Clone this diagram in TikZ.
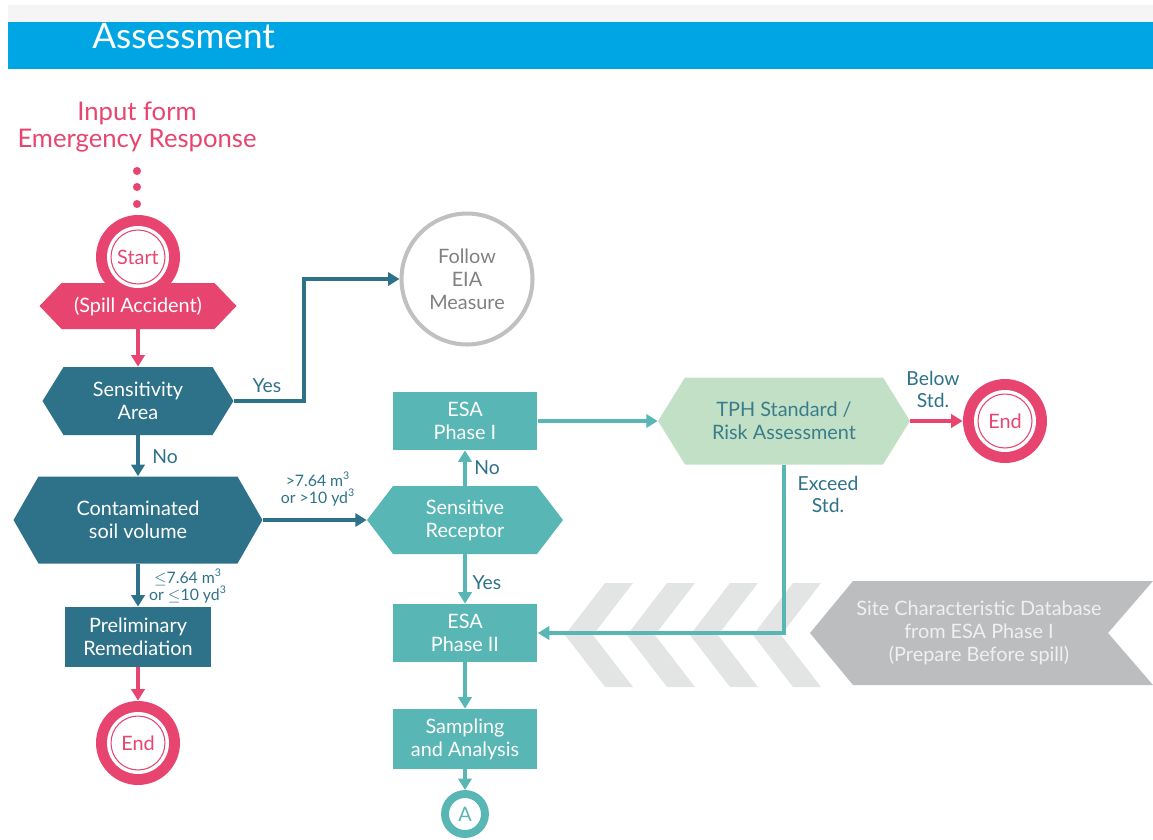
\documentclass[tikz,border=0pt]{standalone}
\usepackage{fontspec}
\setmainfont{Lato}
\definecolor{erpink}{RGB}{231,69,112}
\definecolor{darkteal}{RGB}{46,114,137}
\definecolor{liteteal}{RGB}{88,182,181}
\definecolor{tphgreen}{RGB}{193,224,198}
\definecolor{tphtext}{RGB}{58,125,138}
\definecolor{ringgray}{RGB}{192,192,192}
\definecolor{eiatext}{RGB}{128,128,128}
\definecolor{dbgray}{RGB}{188,189,191}
\definecolor{chevgray}{RGB}{227,228,228}
\definecolor{headblue}{RGB}{0,166,228}
\definecolor{headgray}{RGB}{245,245,245}
\usetikzlibrary{arrows.meta,calc}

\begin{document}
\begin{tikzpicture}[
  x=0.02cm,y=-0.02cm,
  font=\fontsize{11.3}{13}\selectfont,
  hexbox/.style 2 args={inner sep=0pt,align=center,text=white,
    path picture={\fill[#1] (path picture bounding box.west)
      -- ([xshift=#2]path picture bounding box.north west)
      -- ([xshift=-#2]path picture bounding box.north east)
      -- (path picture bounding box.east)
      -- ([xshift=-#2]path picture bounding box.south east)
      -- ([xshift=#2]path picture bounding box.south west) -- cycle;}},
  rbox/.style={inner sep=0pt,align=center,text=white,
    minimum width=2.9cm,minimum height=1.16cm},
  termnode/.style={circle,fill=erpink,minimum size=1.68cm,inner sep=0pt,text=erpink,
    path picture={\fill[white] (path picture bounding box.center) circle (0.62cm);
      \draw[erpink,line width=0.6pt] (path picture bounding box.center) circle (0.54cm);}},
  flow/.style={line width=2.3pt,-{Triangle[length=6.5pt,width=7.5pt]}},
  lbl/.style={text=darkteal,align=center,font=\fontsize{11}{12.5}\selectfont},
  smalllbl/.style={text=darkteal,align=center,font=\fontsize{9}{10}\selectfont}
]
  \useasboundingbox (0,0) rectangle (1153,839);
  % header bar
  \fill[headgray] (8,5) rectangle (1153,22);
  \fill[headblue] (8,22) rectangle (1153,69);
  \node[anchor=base west,inner sep=0pt,text=white,font=\fontsize{20}{22}\selectfont] (title) at (92,48) {Assessment};

  % input from emergency response
  \node[text=erpink,align=center,font=\fontsize{14.6}{15}\selectfont] (input) at (137,127) {Input form\\Emergency Response};
  \foreach \y in {171,187,204}
    \fill[erpink] (137,\y) circle (2.3pt);

  % chevrons and database arrow
  \foreach \cx in {605,667,730,793}
    \fill[chevgray] (\cx,583) -- ++(28,0) -- ++(-40,52) -- ++(40,52) -- ++(-28,0) -- ++(-40,-52) -- cycle;
  \fill[dbgray] (810,633) -- (853,581) -- (1153,581) -- (1108,633) -- (1153,685) -- (853,685) -- cycle;
  \node[text=white!94!black,align=center] (db) at (979,633) {Site Characteristic Database\\from ESA Phase I\\(Prepare Before spill)};

  % left column
  \node[hexbox={erpink}{0.44cm},minimum width=3.94cm,minimum height=0.92cm] (spill) at (138,306) {(Spill Accident)};
  \node[termnode] (start) at (138,257) {Start};
  \node[hexbox={darkteal}{0.42cm},minimum width=3.82cm,minimum height=1.36cm] (sens) at (138,401) {Sensitivity\\Area};
  \node[hexbox={darkteal}{0.5cm},minimum width=4.98cm,minimum height=1.74cm] (cont) at (138,520) {Contaminated\\soil volume};
  \node[rbox,fill=darkteal,minimum width=2.92cm,minimum height=1.2cm] (prelim) at (138,637) {Preliminary\\Remediation};
  \node[termnode] (endl) at (138,743) {End};

  % middle column
  \node[circle,draw=ringgray,line width=2.3pt,minimum size=2.62cm,inner sep=0pt,align=center,text=eiatext] (follow) at (467,279) {Follow\\EIA\\Measure};
  \node[rbox,fill=liteteal] (esa1) at (465,421) {ESA\\Phase I};
  \node[hexbox={liteteal}{0.52cm},minimum width=3.92cm,minimum height=1.36cm] (recep) at (465,520) {Sensitive\\Receptor};
  \node[rbox,fill=liteteal] (esa2) at (465,633) {ESA\\Phase II};
  \node[rbox,fill=liteteal,minimum height=1.2cm] (sampling) at (465,739) {Sampling\\and Analysis};
  \node[circle,draw=liteteal,line width=4.5pt,fill=white,minimum size=0.8cm,inner sep=0pt,text=liteteal] (conA) at (465,814) {A};

  % right part
  \node[hexbox={tphgreen}{0.54cm},minimum width=5.04cm,minimum height=1.74cm,text=tphtext] (tph) at (784,421) {TPH Standard /\\Risk Assessment};
  \node[termnode] (endr) at (1005,421) {End};

  % connectors
  \draw[flow,erpink] (spill.south) -- (sens.north);
  \draw[flow,darkteal] (sens.east) -- ++(70,0) |- (follow.west);
  \draw[flow,darkteal] (sens.south) -- (cont.north);
  \draw[flow,darkteal] (cont.east) -- (recep.west);
  \draw[flow,darkteal] (cont.south) -- (prelim.north);
  \draw[flow,erpink] (prelim.south) -- (endl.north);
  \draw[flow,liteteal] (recep.north) -- (esa1.south);
  \draw[flow,liteteal] (recep.south) -- (esa2.north);
  \draw[flow,liteteal] (esa1.east) -- (tph.west);
  \draw[flow,erpink] (tph.east) -- (endr.west);
  \draw[flow,liteteal] (tph.south) |- (esa2.east);
  \draw[flow,liteteal] (esa2.south) -- (sampling.north);
  \draw[flow,liteteal] (sampling.south) -- (conA.north);

  % labels
  \node[lbl] (yes1) at (267,386) {Yes};
  \node[lbl] (no1) at (165,457) {No};
  \node[smalllbl] (gtvol) at (318,489) {>7.64 m\textsuperscript{3}\\or >10 yd\textsuperscript{3}};
  \node[smalllbl] (levol) at (188,586) {$\leq$7.64 m\textsuperscript{3}\\or $\leq$10 yd\textsuperscript{3}};
  \node[lbl] (no2) at (487,468) {No};
  \node[lbl] (yes2) at (487,583) {Yes};
  \node[lbl] (below) at (933,389) {Below\\Std.};
  \node[lbl] (exceed) at (828,494) {Exceed\\Std.};
\end{tikzpicture}
\end{document}
